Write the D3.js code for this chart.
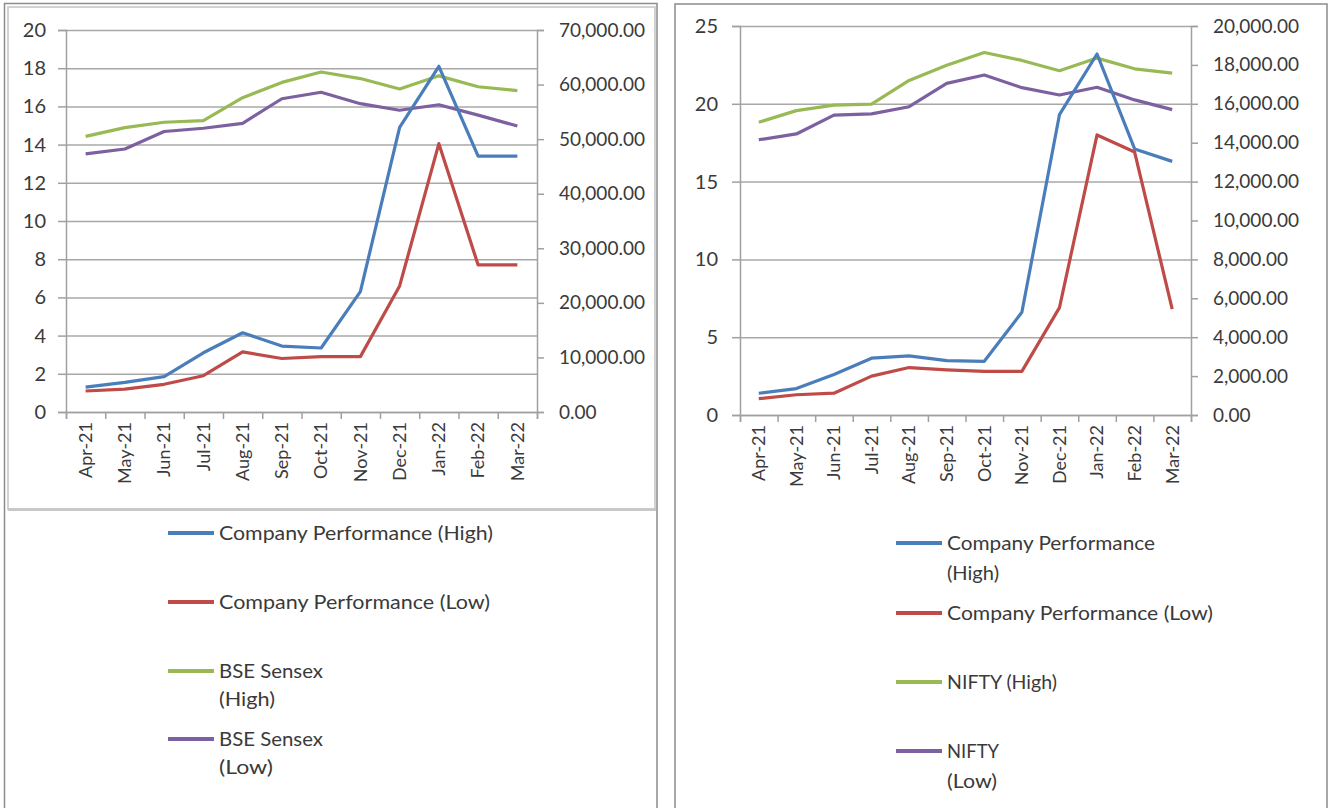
<!DOCTYPE html>
<html><head><meta charset="utf-8">
<script src="https://cdn.jsdelivr.net/npm/d3@7/dist/d3.min.js"></script>
<style>
html,body{margin:0;padding:0;background:#fff;}
svg{display:block;}
text{font-family:Lato,"Open Sans",sans-serif;fill:#3a3a3a;}
</style></head><body>
<svg id="c" width="1328" height="808"></svg>
<script>
const months = ["Apr-21","May-21","Jun-21","Jul-21","Aug-21","Sep-21","Oct-21","Nov-21","Dec-21","Jan-22","Feb-22","Mar-22"];
// Left panel (BSE Sensex)
const compHighL = [1.3,1.55,1.85,3.1,4.15,3.45,3.35,6.3,14.9,18.1,13.4,13.4];
const compLowL  = [1.1,1.2,1.45,1.9,3.15,2.8,2.9,2.9,6.6,14.05,7.7,7.7];
const sensexHigh = [50500,52100,53100,53400,57600,60400,62300,61100,59200,61600,59600,58900];
const sensexLow  = [47300,48200,51400,52000,52900,57400,58600,56500,55300,56300,54400,52400];
// Right panel (NIFTY)
const compHighR = [1.4,1.7,2.6,3.65,3.8,3.5,3.45,6.6,19.3,23.2,17.1,16.3];
const compLowR  = [1.05,1.3,1.4,2.5,3.05,2.9,2.8,2.8,6.9,18.0,16.9,6.8];
const niftyHigh = [15050,15650,15930,15980,17200,17980,18640,18230,17700,18350,17800,17580];
const niftyLow  = [14150,14450,15420,15480,15850,17050,17480,16830,16450,16850,16200,15700];
// Tick values
const leftTicksL = d3.range(0,21,2);
const rightTicksL = d3.range(0,70001,10000);
const leftTicksR = d3.range(0,26,5);
const rightTicksR = d3.range(0,20001,2000);
// Legend labels
const legendL = [["Company Performance (High)"],["Company Performance (Low)"],["BSE Sensex","(High)"],["BSE Sensex","(Low)"]];
const legendR = [["Company Performance","(High)"],["Company Performance (Low)"],["NIFTY (High)"],["NIFTY","(Low)"]];
const colors = ["#4a7ebb","#be4b48","#98b954","#7d60a0"];

const svg = d3.select("#c");

// Panel frames
const frames = svg.append("g");
frames.append("rect").attr("x",8).attr("y",7).attr("width",647).attr("height",502)
  .attr("fill","none").attr("stroke","#d2d2d2").attr("stroke-width",2);
frames.append("line").attr("x1",8).attr("x2",656).attr("y1",509.5).attr("y2",509.5).attr("stroke","#c8c8c8").attr("stroke-width",3);
frames.append("path").attr("d","M4.5,808 V3.5 H657 V808").attr("fill","none").attr("stroke","#8c8c8c").attr("stroke-width",1.5);
frames.append("path").attr("d","M675,808 V4 H1327 V808").attr("fill","none").attr("stroke","#8c8c8c").attr("stroke-width",1.5);

function panel(cfg){
  const g = svg.append("g");
  const x = d3.scaleBand().domain(months).range([cfg.x0,cfg.x1]).padding(0);
  const xb = d3.scaleLinear().domain([0,months.length]).range([cfg.x0,cfg.x1]);
  const yL = d3.scaleLinear().domain([0,cfg.lmax]).range([cfg.y1,cfg.y0]);
  const yR = d3.scaleLinear().domain([0,cfg.rmax]).range([cfg.y1,cfg.y0]);
  const W = cfg.x1-cfg.x0;

  // gridlines
  const grid = g.append("g").attr("transform",`translate(${cfg.x0},0)`)
    .call(d3.axisLeft(yL).tickValues(cfg.lt).tickSize(-W).tickFormat(""));
  grid.select(".domain").remove();
  grid.selectAll("line").attr("stroke","#a8a8a8").attr("stroke-width",1.5);

  // left axis
  const la = g.append("g").attr("transform",`translate(${cfg.x0},0)`)
    .call(d3.axisLeft(yL).tickValues(cfg.lt).tickSize(8).tickPadding(cfg.lpad).tickFormat(d3.format("d")));
  la.select(".domain").attr("stroke","#a0a0a0").attr("stroke-width",1.5);
  la.selectAll("line").attr("stroke","#a0a0a0").attr("stroke-width",1.5);
  la.selectAll("text").style("font-size","20px").attr("fill","#3a3a3a");

  // right axis
  const ra = g.append("g").attr("transform",`translate(${cfg.x1},0)`)
    .call(d3.axisRight(yR).tickValues(cfg.rt).tickSize(7).tickPadding(15).tickFormat(d3.format(",.2f")));
  ra.select(".domain").attr("stroke","#a0a0a0").attr("stroke-width",1.5);
  ra.selectAll("line").attr("stroke","#a0a0a0").attr("stroke-width",1.5);
  ra.selectAll("text").style("font-size","19px").attr("fill","#3a3a3a");

  // bottom axis ticks at category boundaries
  const ba = g.append("g").attr("transform",`translate(0,${cfg.y1})`)
    .call(d3.axisBottom(xb).tickValues(d3.range(months.length+1)).tickSize(7).tickFormat(""));
  ba.select(".domain").attr("stroke","#a0a0a0").attr("stroke-width",1.5);
  ba.selectAll("line").attr("stroke","#a0a0a0").attr("stroke-width",1.5);

  // bottom labels
  const bl = g.append("g").attr("transform",`translate(0,${cfg.y1})`)
    .call(d3.axisBottom(x).tickSize(0).tickPadding(0));
  bl.select(".domain").remove();
  bl.selectAll("text").style("font-size","18px").attr("fill","#3a3a3a")
    .attr("text-anchor","end").attr("transform","rotate(-90)")
    .attr("x",-cfg.lblOff).attr("y",0).attr("dy","0.35em");

  // series
  const series = [
    {v:cfg.s[0], y:yL}, {v:cfg.s[1], y:yL}, {v:cfg.s[2], y:yR}, {v:cfg.s[3], y:yR}
  ];
  const order = [2,3,0,1];
  order.forEach(i=>{
    const s = series[i];
    const line = d3.line().x((d,j)=>x(months[j])+x.bandwidth()/2).y(d=>s.y(d));
    g.append("path").datum(s.v).attr("d",line).attr("fill","none")
      .attr("stroke",colors[i]).attr("stroke-width",3.2).attr("stroke-linejoin","round");
  });

  // legend
  const lg = g.append("g");
  cfg.legend.forEach((lab,i)=>{
    const yy = cfg.legY[i];
    lg.append("line").attr("x1",cfg.legX).attr("x2",cfg.legX+46).attr("y1",yy).attr("y2",yy)
      .attr("stroke",colors[i]).attr("stroke-width",4);
    lab.forEach((t,k)=>{
      const tx = lg.append("text").attr("x",cfg.legX+51).attr("y",yy+k*cfg.legLH).attr("dy","0.35em")
        .style("font-size","19px").text(t);
      const w = cfg.legW[t];
      if(w){ tx.attr("textLength",w).attr("lengthAdjust","spacingAndGlyphs"); }
    });
  });
}

panel({x0:66,x1:537,y0:30,y1:412,lmax:20,rmax:70000,lt:leftTicksL,rt:rightTicksL,lpad:12,lblOff:10,
  s:[compHighL,compLowL,sensexHigh,sensexLow],legend:legendL,
  legX:168,legY:[533,602,671,739],legLH:28,
  legW:{"Company Performance (High)":274,"Company Performance (Low)":271,"BSE Sensex":104,"(High)":56,"(Low)":54}});

panel({x0:740,x1:1191,y0:26,y1:415,lmax:25,rmax:20000,lt:leftTicksR,rt:rightTicksR,lpad:14,lblOff:10,
  s:[compHighR,compLowR,niftyHigh,niftyLow],legend:legendR,
  legX:896,legY:[543,613,682,751],legLH:30,
  legW:{"Company Performance":208,"Company Performance (Low)":266,"NIFTY (High)":110,"NIFTY":52,"(High)":52,"(Low)":50}});
</script>
</body></html>
